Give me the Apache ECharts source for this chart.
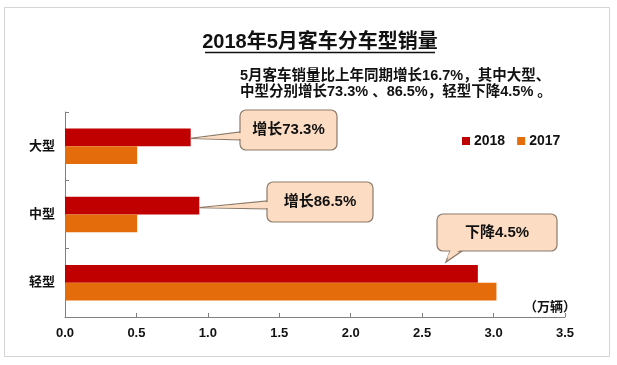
<!DOCTYPE html>
<html><head><meta charset="utf-8">
<script src="https://cdn.jsdelivr.net/npm/echarts@6/dist/echarts.min.js"></script>
<style>html,body{margin:0;padding:0;background:#fff}#c{width:617px;height:365px}</style>
</head><body><div id="c"></div>
<script>
const categories = ['大型', '中型', '轻型'];
const values2018 = [0.88, 0.94, 2.89];
const values2017 = [0.505, 0.505, 3.02];
const seriesNames = ['2018', '2017'];
const xTicks = { min: 0, max: 3.5, interval: 0.5 };
const titleText = '2018年5月客车分车型销量';
const subLines = ['5月客车销量比上年同期增长16.7%，其中大型、', '中型分别增长73.3% 、86.5%，轻型下降4.5% 。'];
const calloutTexts = ['增长73.3%', '增长86.5%', '下降4.5%'];
const unitText = '（万辆）';

const FONT = '"Liberation Sans", "Noto Sans CJK SC", sans-serif';
const chart = echarts.init(document.getElementById('c'), null, { renderer: 'canvas' });

const baseOption = {
  animation: false,
  backgroundColor: '#fff',
  grid: { left: 65, right: 52, top: 112, bottom: 48 },
  legend: {
    data: seriesNames, left: 457, top: 129, icon: 'rect', itemWidth: 8, itemHeight: 8, itemGap: 12,
    textStyle: { fontFamily: FONT, fontWeight: 'bold', fontSize: 14, color: '#111', padding: [0, 0, 0, -1] }
  },
  xAxis: {
    type: 'value', min: xTicks.min, max: xTicks.max, interval: xTicks.interval,
    splitLine: { show: false },
    axisLine: { show: true, lineStyle: { color: '#808080', width: 1 } },
    axisTick: { show: true, inside: true, length: 4, lineStyle: { color: '#808080' } },
    axisLabel: { formatter: v => v.toFixed(1), margin: 10, fontFamily: FONT, fontWeight: 'bold', fontSize: 13, color: '#111' }
  },
  yAxis: {
    type: 'category', data: categories, inverse: true,
    axisLine: { show: true, lineStyle: { color: '#808080', width: 1 } },
    axisTick: { show: true, inside: true, length: 4, lineStyle: { color: '#808080' } },
    axisLabel: { margin: 10, fontFamily: FONT, fontWeight: 'bold', fontSize: 13, color: '#111' }
  },
  series: [
    { name: seriesNames[0], type: 'bar', data: values2018, barGap: '0%', barCategoryGap: '48%', itemStyle: { color: '#C00000' } },
    { name: seriesNames[1], type: 'bar', data: values2017, barGap: '0%', barCategoryGap: '48%', itemStyle: { color: '#E46C0A' } }
  ]
};
chart.setOption(baseOption);

function barRect(seriesIndex, idx) {
  const l = chart.getModel().getSeriesByIndex(seriesIndex).getData().getItemLayout(idx);
  const x0 = Math.min(l.x, l.x + l.width), x1 = Math.max(l.x, l.x + l.width);
  const y0 = Math.min(l.y, l.y + l.height), y1 = Math.max(l.y, l.y + l.height);
  return { x0, x1, y0, y1 };
}

const FILL = '#FCDDC4', STROKE = '#8C7B6B';
function callout(box, base, tip, text, elements) {
  const left = box.side === 'left';
  elements.push({ type: 'polygon', z: 100, shape: { points: [base[0], base[1], tip] }, style: { fill: FILL, stroke: STROKE, lineWidth: 1.2 } });
  elements.push({ type: 'rect', z: 101, shape: { x: box.x, y: box.y, width: box.w, height: box.h, r: 6 }, style: { fill: FILL, stroke: STROKE, lineWidth: 1.2 } });
  elements.push({ type: 'polygon', z: 102, shape: { points: [
    [base[0][0] + (left ? 1.5 : 1), base[0][1] + (left ? 1 : -1.5)],
    [base[1][0] + (left ? 1.5 : -1), base[1][1] + (left ? -1 : -1.5)],
    [tip[0] + (left ? 4 : 1), tip[1] + (left ? 0 : -4)]
  ] }, style: { fill: FILL } });
  elements.push({ type: 'text', z: 103, style: { text: text, x: box.x + box.w / 2, y: box.y + box.h / 2, align: 'center', verticalAlign: 'middle', fontFamily: FONT, fontWeight: 'bold', fontSize: 15, fill: '#111' } });
}

const els = [];
els.push({ type: 'rect', z: 0, silent: true, shape: { x: 4.5, y: 7.5, width: 605, height: 349 }, style: { fill: 'none', stroke: '#D4D4D4', lineWidth: 1 } });
els.push({ type: 'text', z: 50, style: { text: titleText, x: 320, y: 42, align: 'center', verticalAlign: 'middle', fontFamily: FONT, fontWeight: 'bold', fontSize: 20, fill: '#111' } });
els.push({ type: 'line', z: 50, shape: { x1: 205, y1: 52.5, x2: 435, y2: 52.5 }, style: { stroke: '#111', lineWidth: 1.5 } });
els.push({ type: 'text', z: 50, style: { text: subLines[0], x: 240, y: 76, align: 'left', verticalAlign: 'middle', fontFamily: FONT, fontWeight: 'bold', fontSize: 14.5, fill: '#111' } });
els.push({ type: 'text', z: 50, style: { text: subLines[1], x: 240, y: 92, align: 'left', verticalAlign: 'middle', fontFamily: FONT, fontWeight: 'bold', fontSize: 14.5, fill: '#111' } });
els.push({ type: 'text', z: 50, style: { text: unitText, x: 550, y: 307, align: 'center', verticalAlign: 'middle', fontFamily: FONT, fontWeight: 'bold', fontSize: 13, fill: '#111' } });

const r0 = barRect(0, 0), r1 = barRect(0, 1), r2 = barRect(0, 2);
const b1 = { x: 240, y: 110, w: 97, h: 40, side: 'left' };
callout(b1, [[240, 132], [240, 140]], [r0.x1, (r0.y0 + r0.y1) / 2 + 1], calloutTexts[0], els);
const b2 = { x: 267, y: 182, w: 106, h: 40, side: 'left' };
callout(b2, [[267, 201], [267, 209]], [r1.x1, (r1.y0 + r1.y1) / 2 + 2], calloutTexts[1], els);
const b3 = { x: 437, y: 214, w: 120, h: 37, side: 'bottom' };
callout(b3, [[450, 251], [462, 251]], [r2.x1 - 32, r2.y0 - 3], calloutTexts[2], els);

chart.setOption({ graphic: { elements: els } });
</script></body></html>
